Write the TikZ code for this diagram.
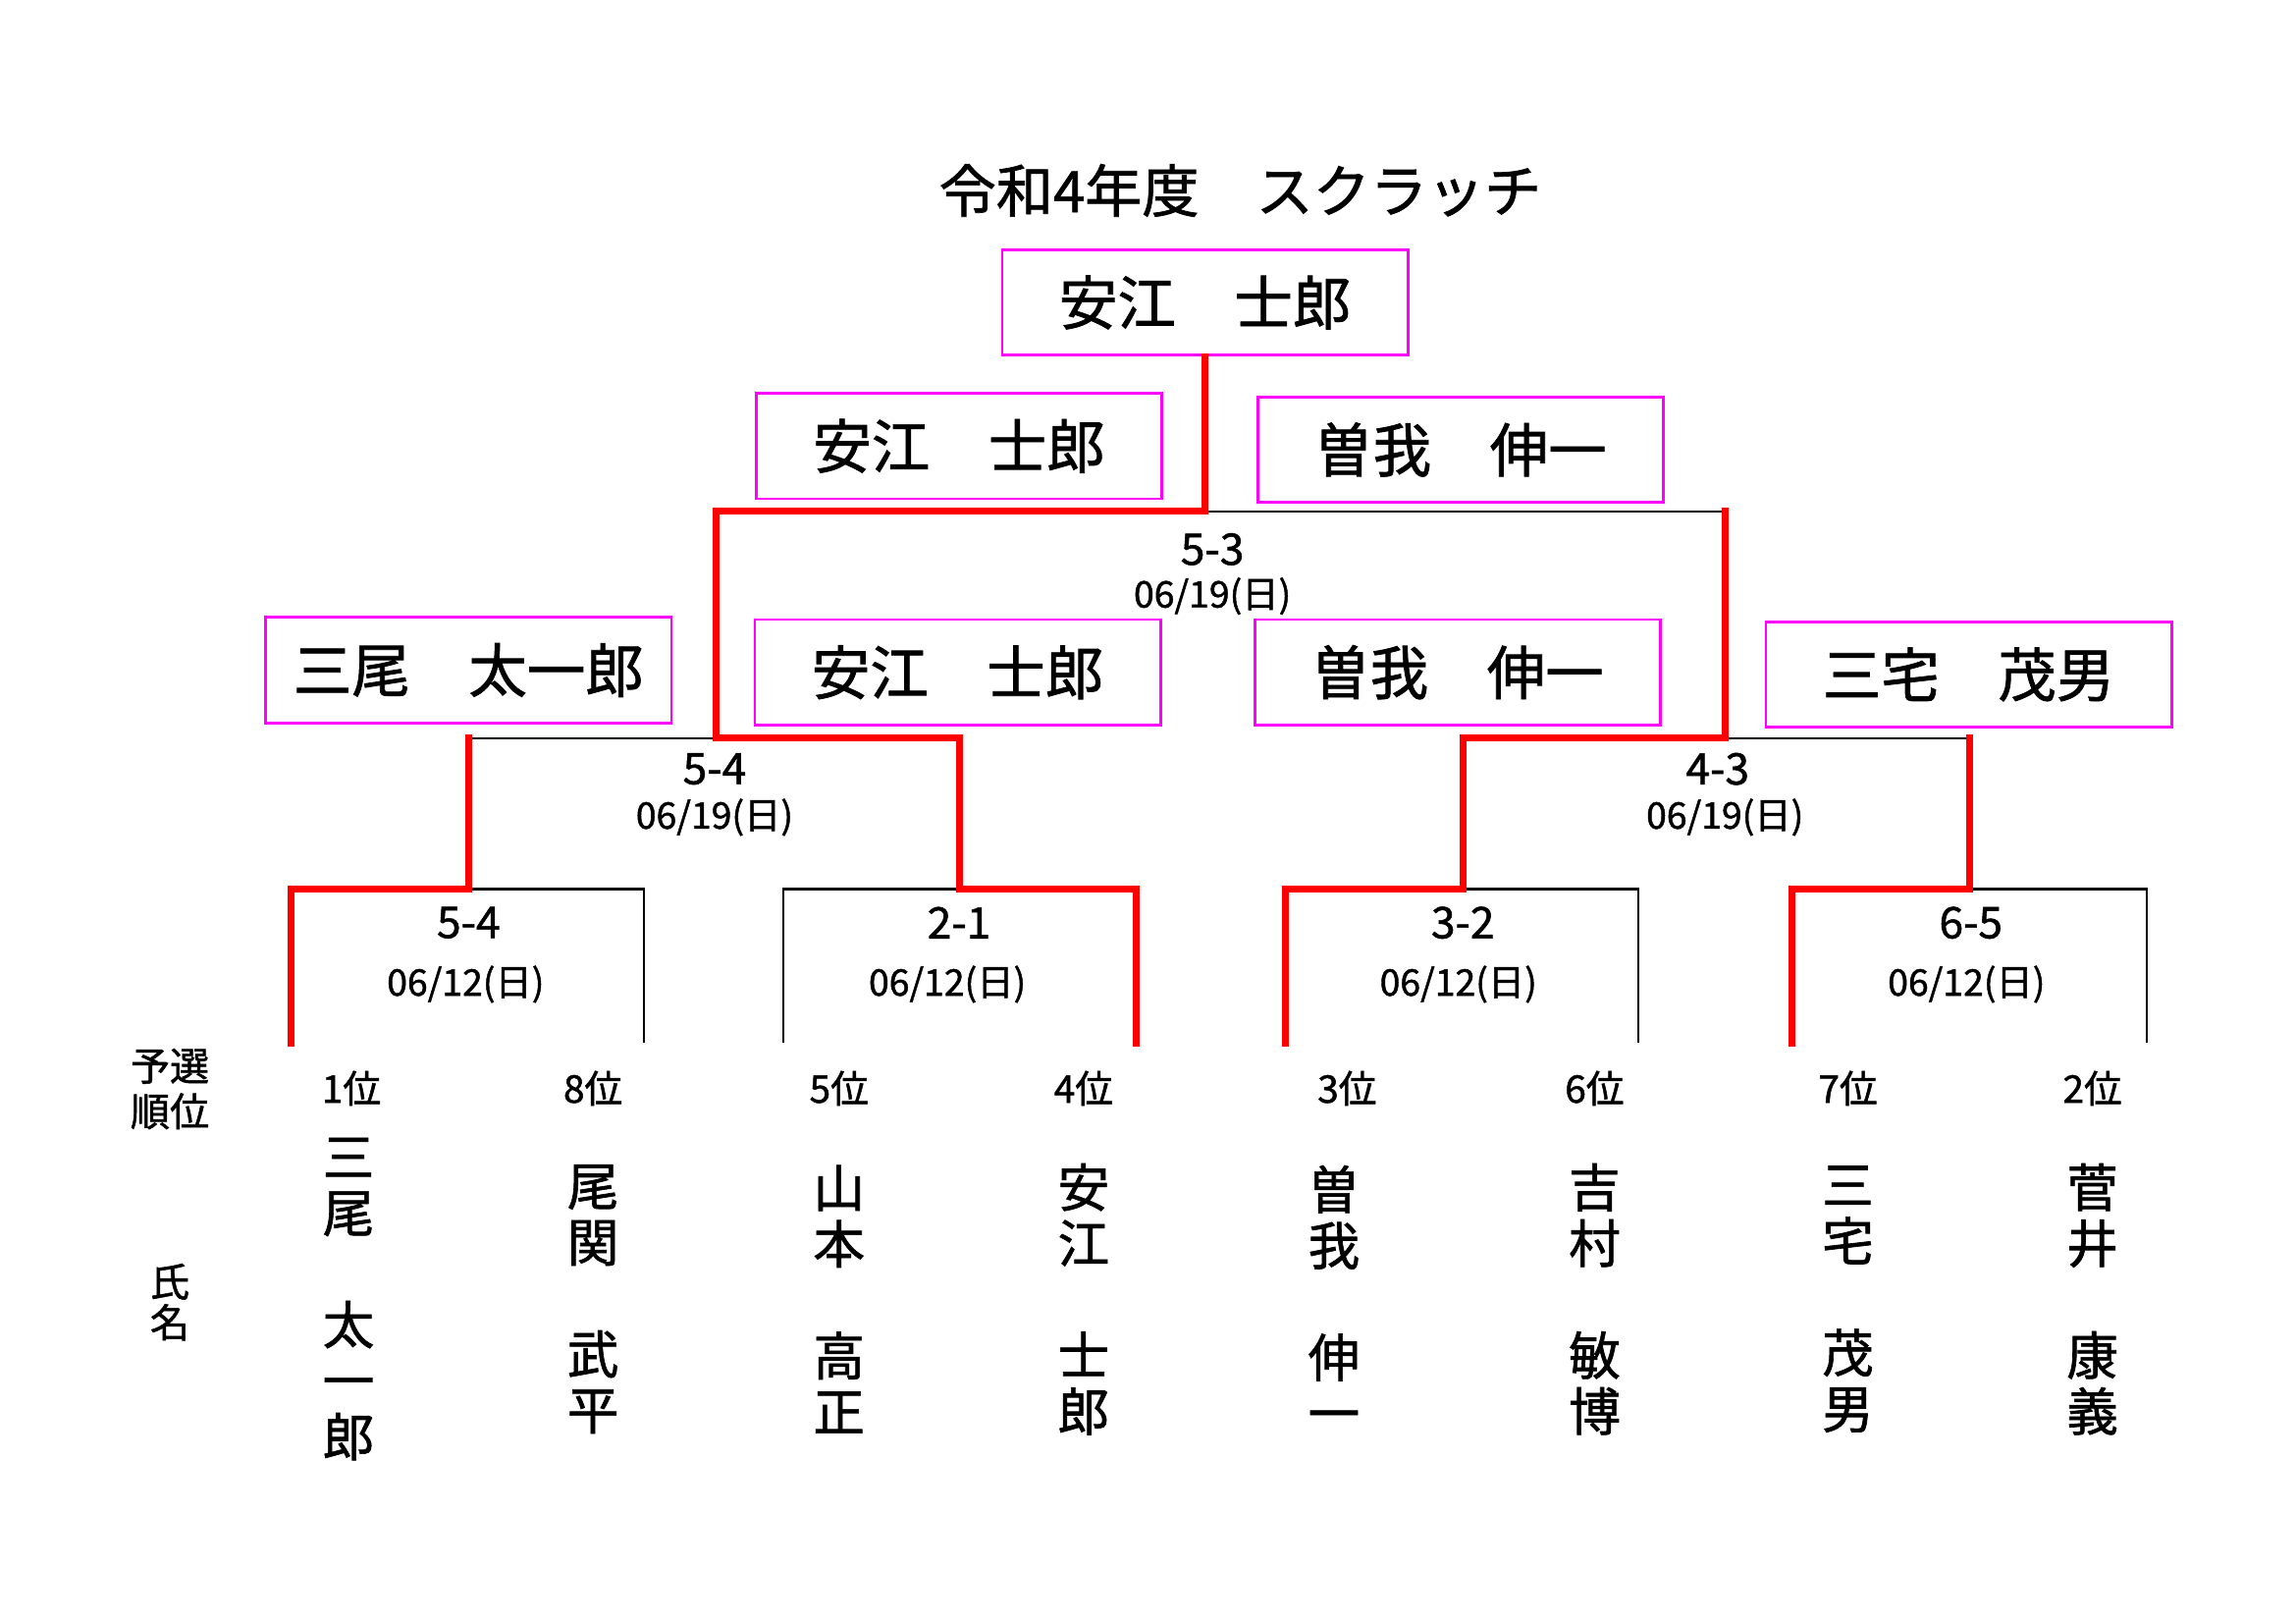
\documentclass[tikz,border=0pt]{standalone}
\usepackage{fontspec}
\setmainfont{Noto Sans CJK JP}[FakeBold=1.2]
\definecolor{boxmag}{RGB}{255,0,255}
\definecolor{winred}{RGB}{255,0,0}
\begin{document}
\begin{tikzpicture}[x=0.18942mm,y=-0.18942mm,
  namebox/.style={draw=boxmag, line width=1pt, minimum width=277*0.18942mm, minimum height=72*0.18942mm, inner sep=0pt, font=\fontsize{21.5}{24}\selectfont},
  loseline/.style={draw=black, line width=0.75pt, line join=miter},
  winline/.style={draw=winred, line width=2.5pt, line join=miter, line cap=rect},
  score/.style={font=\fontsize{16}{18}\selectfont, inner sep=0pt},
  datelab/.style={font=\fontsize{13.5}{15}\selectfont, inner sep=0pt},
  ranklab/.style={font=\fontsize{14}{16}\selectfont, inner sep=0pt},
  namecol/.style={align=center, inner sep=0pt, font=\fontsize{19}{20.6}\selectfont},
  headlab/.style={align=center, inner sep=0pt, font=\fontsize{14.5}{16.7}\selectfont}]
\useasboundingbox (0,0) rectangle (1568,1108);

% title
\node[inner sep=0pt, font=\fontsize{21}{24}\selectfont] (title) at (847,130) {令和4年度　スクラッチ};

% winner boxes
\node[namebox] (champ) at (823,206.5) {安江　士郎};
\node[namebox] (semiL) at (655,304.5) {安江　士郎};
\node[namebox] (semiR) at (997.5,307) {曽我　伸一};
\node[namebox] (q1) at (320,457.5) {三尾　太一郎};
\node[namebox] (q2) at (654,459) {安江　士郎};
\node[namebox] (q3) at (995.5,459) {曽我　伸一};
\node[namebox] (q4) at (1344.5,460.5) {三宅　茂男};

% leaf points
\coordinate (p1) at (199,712);
\coordinate (p2) at (440,712);
\coordinate (p3) at (535,712);
\coordinate (p4) at (776,712);
\coordinate (p5) at (878,712);
\coordinate (p6) at (1119,712);
\coordinate (p7) at (1224,712);
\coordinate (p8) at (1466,712);
% first round joins
\coordinate (r1) at (320,607);
\coordinate (r2) at (655,607);
\coordinate (r3) at (999,607);
\coordinate (r4) at (1345,607);
% second round joins
\coordinate (s1) at (489,504);
\coordinate (s2) at (1178,504);
% final join
\coordinate (fm) at (823,349);

% losing lines
\draw[loseline] (p2) |- (r1);
\draw[loseline] (p3) |- (r2);
\draw[loseline] (p6) |- (r3);
\draw[loseline] (p8) |- (r4);
\draw[loseline] (r1 |- s1) -- (s1);
\draw[loseline] (r4 |- s2) -- (s2);
\draw[loseline] (s2 |- fm) -- (fm);

% winning lines
\draw[winline] (p1) |- (r1) -- (r1 |- s1);
\draw[winline] (p4) |- (r2) -- (r2 |- s1) -- (s1) -- (s1 |- fm) -- (fm) -- (champ.south);
\draw[winline] (p5) |- (r3) -- (r3 |- s2) -- (s2) -- (s2 |- fm);
\draw[winline] (p7) |- (r4) -- (r4 |- s2);

% scores and dates
\node[score] (sc0) at (828,375) {5-3};
\node[datelab] (dt0) at (828,407) {06/19(日)};
\node[score] (sc5) at (488,525) {5-4};
\node[datelab] (dt5) at (488,558) {06/19(日)};
\node[score] (sc6) at (1173,525) {4-3};
\node[datelab] (dt6) at (1178,558) {06/19(日)};
\node[score] (sc1) at (320,630) {5-4};
\node[datelab] (dt1) at (318,672) {06/12(日)};
\node[score] (sc2) at (655,630) {2-1};
\node[datelab] (dt2) at (647,672) {06/12(日)};
\node[score] (sc3) at (999,630) {3-2};
\node[datelab] (dt3) at (996,672) {06/12(日)};
\node[score] (sc4) at (1346,630) {6-5};
\node[datelab] (dt4) at (1343,672) {06/12(日)};

% headers
\node[headlab] (hd1) at (116,743.5) {予選\\順位};
\node[headlab, font=\fontsize{14.5}{15}\selectfont] (hd2) at (116,889) {氏\\名};

% ranks
\node[ranklab] (k1) at (240,743) {1位};
\node[ranklab] (k2) at (405,743) {8位};
\node[ranklab] (k3) at (573,743) {5位};
\node[ranklab] (k4) at (740,743) {4位};
\node[ranklab] (k5) at (920,743) {3位};
\node[ranklab] (k6) at (1089,743) {6位};
\node[ranklab] (k7) at (1262,743) {7位};
\node[ranklab] (k8) at (1429,743) {2位};

% names (vertical)
\node[namecol] (n1) at (238,887) {三\\尾\\　\\太\\一\\郎};
\node[namecol] (n2) at (405,887) {尾\\関\\　\\武\\平};
\node[namecol] (n3) at (573,887) {山\\本\\　\\高\\正};
\node[namecol] (n4) at (740,887) {安\\江\\　\\士\\郎};
\node[namecol] (n5) at (911,887) {曽\\我\\　\\伸\\一};
\node[namecol] (n6) at (1089,887) {吉\\村\\　\\敏\\博};
\node[namecol] (n7) at (1262,887) {三\\宅\\　\\茂\\男};
\node[namecol] (n8) at (1429,887) {菅\\井\\　\\康\\義};
\end{tikzpicture}
\end{document}
